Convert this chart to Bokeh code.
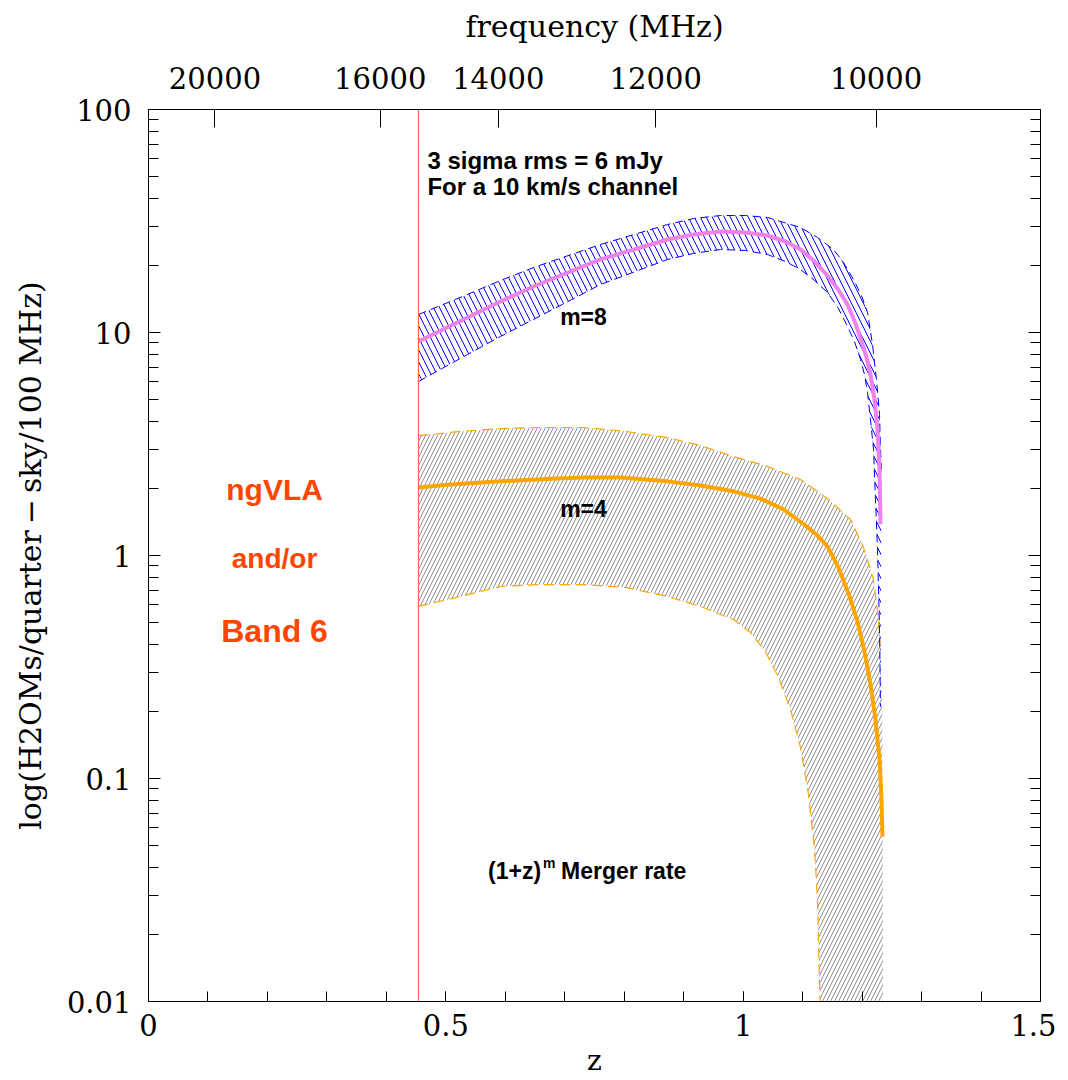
from bokeh.plotting import figure
from bokeh.models import (LinearAxis, LogAxis, FixedTicker, SingleIntervalTicker,
                          CustomJSTickFormatter, Span, Label)
from bokeh.embed import file_html
from bokeh.resources import INLINE

# ---------------- data ----------------
REST_FREQ_MHZ = 22235.08          # H2O maser rest frequency
freq_tick_labels = [20000, 16000, 14000, 12000, 10000]
band_edge_z = 0.454               # vertical line

y_major = [0.01, 0.1, 1, 10, 100]
y_minor = [m * d for d in [0.01, 0.1, 1, 10] for m in range(2, 10)]

# m = 8 model (solid violet line)
z_m8 = [0.4540, 0.5364, 0.5919, 0.6474, 0.7601, 0.8728, 0.9165, 0.9619, 1.0039,
        1.0409, 1.0712, 1.0964, 1.1183, 1.1401, 1.1586, 1.1755, 1.1889, 1.2007,
        1.2074, 1.2141, 1.2209, 1.2259, 1.2293, 1.2309]
v_m8 = [9.11, 11.68, 13.77, 16.08, 21.26, 26.12, 27.51, 28.38, 28.08,
        27.23, 25.59, 23.56, 21.03, 18.20, 15.75, 13.36, 10.98, 8.84,
        7.73, 6.48, 5.01, 3.67, 2.43, 1.38]

# m = 8 band (blue hatched)
z_m8_hi = [0.4540, 0.5364, 0.5919, 0.6474, 0.7601, 0.8728, 0.9165, 0.9619, 1.0039,
           1.0409, 1.0964, 1.1250, 1.1519, 1.1687, 1.1855, 1.1990, 1.2091, 1.2175,
           1.2242, 1.2293, 1.2309, 1.2326]
v_m8_hi = [12.04, 14.81, 17.11, 19.56, 24.81, 30.50, 32.44, 33.47, 33.47,
           32.79, 29.57, 26.67, 23.56, 20.60, 17.29, 14.65, 12.29, 8.84,
           6.15, 4.29, 2.99, 2.43]
z_m8_lo = [0.4540, 0.5364, 0.5919, 0.6474, 0.7601, 0.8728, 0.9165, 0.9619, 1.0039,
           1.0409, 1.0712, 1.0964, 1.1200, 1.1418, 1.1603, 1.1755, 1.1872, 1.1973,
           1.2040, 1.2091, 1.2141, 1.2192, 1.2225, 1.2259, 1.2293, 1.2309]
v_m8_lo = [6.03, 7.97, 9.60, 11.44, 16.41, 21.26, 22.62, 23.56, 23.32,
           22.38, 20.82, 19.16, 17.11, 15.12, 12.81, 10.64, 9.11, 7.57,
           6.48, 5.38, 4.07, 2.99, 1.78, 1.06, 0.466, 0.210]

# m = 4 model (solid orange line)
z_m4 = [0.4540, 0.5078, 0.5919, 0.6760, 0.7315, 0.7937, 0.8728, 0.9283, 0.9837,
        1.0291, 1.0678, 1.1048, 1.1250, 1.1418, 1.1603, 1.1771, 1.1923, 1.2040,
        1.2141, 1.2225, 1.2293, 1.2326, 1.2343]
v_m4 = [2.02, 2.08, 2.15, 2.21, 2.24, 2.24, 2.15, 2.06, 1.94,
        1.80, 1.61, 1.363, 1.229, 1.098, 0.884, 0.676, 0.506, 0.371,
        0.264, 0.184, 0.1217, 0.0805, 0.0549]

# m = 4 band (grey hatched, orange dashed edges)
z_m4_hi = [0.4540, 0.5247, 0.5919, 0.6592, 0.7315, 0.8021, 0.8728, 0.9283, 0.9837,
           1.0409, 1.0964, 1.1418, 1.1805, 1.2024, 1.2192, 1.2276, 1.2309, 1.2335,
           1.2343, 1.2350]
v_m4_hi = [3.45, 3.60, 3.71, 3.75, 3.75, 3.60, 3.38, 3.11, 2.78,
           2.51, 2.19, 1.80, 1.45, 1.086, 0.78, 0.516, 0.367, 0.226,
           0.122, 0.01]
z_m4_lo = [0.4540, 0.5247, 0.5919, 0.6592, 0.7315, 0.8021, 0.8728, 0.9283, 0.9837,
           1.0123, 1.0375, 1.0594, 1.0796, 1.0964, 1.1099, 1.1200, 1.1250, 1.1275,
           1.1292]
v_m4_lo = [0.591, 0.655, 0.726, 0.741, 0.741, 0.719, 0.655, 0.591, 0.516,
           0.452, 0.371, 0.284, 0.204, 0.138, 0.0848, 0.0480, 0.0287, 0.0154,
           0.01]

# ---------------- figure ----------------
SERIF = "DejaVu Serif"
SANS = "Liberation Sans"

p = figure(frame_width=892, height=1080, x_range=(0, 1.5), y_range=(0.01, 100),
           y_axis_type="log", output_backend="svg", toolbar_location=None,
           min_border_left=148, min_border_top=109, min_border_right=16,
           min_border_bottom=79, background_fill_color="white",
           border_fill_color="white")
p.grid.visible = False
p.outline_line_color = "black"
p.outline_line_width = 1


def style_axis(ax, major_in, minor_in, standoff):
    ax.major_tick_in = major_in
    ax.major_tick_out = 0
    ax.minor_tick_in = minor_in
    ax.minor_tick_out = 0
    ax.axis_line_color = "black"
    ax.major_tick_line_color = "black"
    ax.minor_tick_line_color = "black"
    ax.major_label_text_font = SERIF
    ax.major_label_text_font_size = "29px"
    ax.major_label_text_color = "black"
    ax.major_label_standoff = standoff
    ax.axis_label_text_font = SERIF
    ax.axis_label_text_font_size = "30px"
    ax.axis_label_text_font_style = "normal"
    ax.axis_label_text_color = "black"


# bottom z axis
xa = p.xaxis[0]
xa.ticker = SingleIntervalTicker(interval=0.5, num_minor_ticks=5)
xa.formatter = CustomJSTickFormatter(code="return String(Math.round(tick*10)/10);")
style_axis(xa, 10, 10, 12)
xa.axis_label = "z"
xa.axis_label_text_font_size = "28px"
xa.axis_label_standoff = 5

# left log axis
ya = p.yaxis[0]
ya.ticker = FixedTicker(ticks=y_major, minor_ticks=y_minor)
ya.formatter = CustomJSTickFormatter(code="""
const e = Math.round(Math.log10(tick));
if (e >= 0) return String(Math.round(tick));
return tick.toFixed(-e);
""")
style_axis(ya, 12, 10, 17)
ya.axis_label = "log(H2OMs/quarter\u2009\u2212\u2009sky/100 MHz)"
ya.axis_label_standoff = 16

# right mirror axis (no labels)
ra = LogAxis(ticker=FixedTicker(ticks=y_major, minor_ticks=y_minor),
             formatter=CustomJSTickFormatter(code="return '';"))
style_axis(ra, 12, 10, 0)
ra.major_label_text_font_size = "8px"
p.add_layout(ra, "right")

# top frequency axis
top_z = [REST_FREQ_MHZ / f - 1 for f in freq_tick_labels]
ta = LinearAxis(ticker=FixedTicker(ticks=top_z),
                formatter=CustomJSTickFormatter(
                    code="return String(Math.round(%f/(1+tick)));" % REST_FREQ_MHZ))
style_axis(ta, 18, 0, 21)
ta.axis_label = "frequency (MHz)"
ta.axis_label_standoff = 20
p.add_layout(ta, "above")

# ---------------- bands ----------------
p.patch(z_m4_hi + z_m4_lo[::-1], v_m4_hi + v_m4_lo[::-1],
        fill_color=None, line_color=None,
        hatch_pattern="/", hatch_color="#909090", hatch_scale=8, hatch_weight=1)
p.line(z_m4_hi[:-3], v_m4_hi[:-3], line_color="orange", line_width=1.2, line_dash="10 6")
p.line(z_m4_lo, v_m4_lo, line_color="orange", line_width=1.2, line_dash="10 6")

p.patch(z_m8_hi + z_m8_lo[::-1], v_m8_hi + v_m8_lo[::-1],
        fill_color=None, line_color=None,
        hatch_pattern="\\", hatch_color="blue", hatch_scale=12, hatch_weight=1)
p.line(z_m8_hi, v_m8_hi, line_color="blue", line_width=1, line_dash="8 5")
p.line(z_m8_lo, v_m8_lo, line_color="blue", line_width=1, line_dash="8 5")

# model lines
p.line(z_m4, v_m4, line_color="orange", line_width=4)
p.line(z_m8, v_m8, line_color="violet", line_width=4)

p.add_layout(Span(location=band_edge_z, dimension="height",
                  line_color="#f26b4b", line_width=1.2))


# ---------------- texts ----------------
def lab(x, y, text, size, color="black", align="left", font=SANS, style="bold",
        xoff=0, yoff=0):
    p.add_layout(Label(x=x, y=y, text=text, text_font=font, text_font_style=style,
                       text_font_size=size, text_color=color, text_align=align,
                       text_baseline="middle", x_offset=xoff, y_offset=yoff))


lab(0.469, 59.0, "3 sigma rms = 6 mJy", "24px")
lab(0.469, 45.2, "For a 10 km/s channel", "24px")
lab(0.7315, 11.7, "m=8", "23px", align="center")
lab(0.7315, 1.61, "m=4", "23px", align="center")
lab(0.212, 1.98, "ngVLA", "30px", color="#ff4500", align="center")
lab(0.212, 0.97, "and/or", "28px", color="#ff4500", align="center")
lab(0.212, 0.46, "Band 6", "32px", color="#ff4500", align="center")

lab(0.571, 0.0383, "(1+z)", "23px")
lab(0.571, 0.0383, "m", "14px", xoff=55, yoff=8)
lab(0.571, 0.0383, "Merger rate", "23px", xoff=73)

open("out.html", "w").write(file_html(p, INLINE))
